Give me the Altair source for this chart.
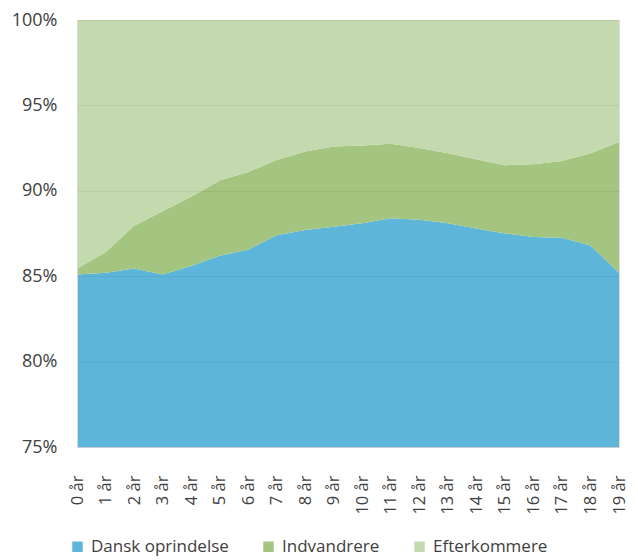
import altair as alt
import pandas as pd

ages = [f"{i} år" for i in range(20)]
dansk = [85.1, 85.2, 85.45, 85.1, 85.6, 86.2, 86.55, 87.4, 87.7, 87.9,
         88.1, 88.4, 88.3, 88.1, 87.8, 87.5, 87.3, 87.25, 86.8, 85.2]
# cumulative top of Dansk + Indvandrere
green_top = [85.45, 86.4, 87.95, 88.8, 89.65, 90.6, 91.1, 91.8, 92.3, 92.6,
             92.65, 92.75, 92.5, 92.2, 91.85, 91.5, 91.55, 91.75, 92.2, 92.85]
indvandrere = [round(g - d, 3) for g, d in zip(green_top, dansk)]
efterkommere = [round(100 - g, 3) for g in green_top]

series = ["Dansk oprindelse", "Indvandrere", "Efterkommere"]
colors = ["#5db5d9", "#a4c57f", "#c5d9af"]

rows = []
for i, a in enumerate(ages):
    for k, (name, vals) in enumerate(zip(series, [dansk, indvandrere, efterkommere])):
        rows.append({"alder": a, "serie": name, "andel": vals[i] / 100, "orden": k})
df = pd.DataFrame(rows)

FONT = "Open Sans"
TXT = "#404040"

chart = alt.Chart(df).mark_area(clip=True, interpolate="linear").encode(
    x=alt.X("alder:N", sort=ages, title=None,
            scale=alt.Scale(type="point", padding=0),
            axis=alt.Axis(labelAngle=-90, labelFontSize=16.5, labelFont=FONT, labelColor=TXT,
                          ticks=False, domainColor="#d9d9d9", labelPadding=28, grid=False)),
    y=alt.Y("andel:Q", stack="zero", title=None,
            scale=alt.Scale(domain=[0.75, 1.0], nice=False, zero=False),
            axis=alt.Axis(values=[0.75, 0.8, 0.85, 0.9, 0.95, 1.0], format=".0%",
                          labelFontSize=18, labelFont=FONT, labelColor=TXT, ticks=False,
                          domainColor="#d9d9d9", labelPadding=20, grid=True,
                          gridColor="#000000", gridOpacity=0.06, zindex=1)),
    color=alt.Color("serie:N", sort=series,
                    scale=alt.Scale(domain=series, range=colors),
                    legend=alt.Legend(title=None, orient="none", direction="horizontal",
                                      legendX=-8, legendY=518, symbolType="square",
                                      symbolSize=110, symbolStrokeWidth=0, labelFontSize=17,
                                      labelFont=FONT, labelColor=TXT, labelOffset=5,
                                      columnPadding=31)),
    order=alt.Order("orden:Q"),
).properties(
    width=542, height=427,
    autosize=alt.AutoSizeParams(type="none"),
    padding={"left": 69, "top": 12, "right": 11, "bottom": 113},
).configure_view(stroke=None).configure(background="white")

chart.save("out.html", embed_options={"renderer": "svg", "actions": False})
